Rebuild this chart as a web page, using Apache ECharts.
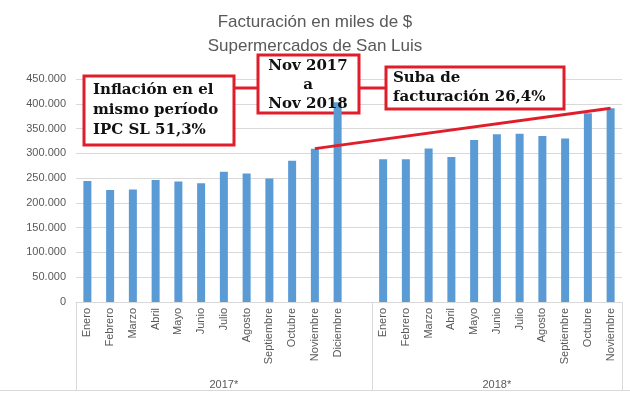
<!DOCTYPE html>
<html>
<head>
<meta charset="utf-8">
<script src="https://cdn.jsdelivr.net/npm/echarts@6/dist/echarts.min.js"></script>
<style>html,body{margin:0;padding:0;background:#fff}#c{width:630px;height:394px}</style>
</head>
<body>
<div id="c"></div>
<script>
// ---- data ----
const months2017 = ['Enero','Febrero','Marzo','Abril','Mayo','Junio','Julio','Agosto','Septiembre','Octubre','Noviembre','Diciembre',''];
const months2018 = ['Enero','Febrero','Marzo','Abril','Mayo','Junio','Julio','Agosto','Septiembre','Octubre','Noviembre'];
const values2017 = [244000,226000,227000,246000,243000,239500,263000,259500,249000,285000,309500,403000,null];
const values2018 = [288000,288000,310000,292500,327000,338500,339500,335000,330000,381000,391000];
const groupLabels = ['2017*','2018*'];
const yTicks = [0,50000,100000,150000,200000,250000,300000,350000,400000,450000];
const titleText = 'Facturación en miles de $\nSupermercados de San Luis';
const box1Text = 'Inflación en el\nmismo período\nIPC SL 51,3%';
const box2Text = 'Nov 2017\na\nNov 2018';
const box3Text = 'Suba de\nfacturación 26,4%';

// ---- build ----
const categories = months2017.concat(months2018);
const values = values2017.concat(values2018);
const n17 = months2017.length, n18 = months2018.length;
const halfCount = 2 * (n17 + n18) + 1;
const groupAxis = [];
for (let i = 0; i < halfCount; i++) groupAxis.push('');
groupAxis[n17] = groupLabels[0];
groupAxis[2 * n17 + n18] = groupLabels[1];
const boundaries = [0, 2 * n17, 2 * (n17 + n18)];
const idxA = 10, idxB = n17 + 10;

const fmt = v => String(v).replace(/\B(?=(\d{3})+(?!\d))/g, '.');
const RED = '#e01e2b';
const serif = 'bold 15px "DejaVu Serif"';

const chart = echarts.init(document.getElementById('c'), null, {renderer: 'canvas'});
chart.setOption({
  animation: false,
  backgroundColor: '#fff',
  title: {
    text: titleText, left: 'center', top: 5,
    textStyle: {fontFamily: 'Liberation Sans', fontSize: 17, fontWeight: 'normal', color: '#595959', lineHeight: 24}
  },
  grid: {left: 76, right: 8, top: 79, bottom: 92},
  xAxis: [{
    type: 'category', data: categories,
    axisLine: {lineStyle: {color: '#d9d9d9'}},
    axisTick: {show: false},
    axisLabel: {rotate: 90, interval: 0, fontFamily: 'Liberation Sans', fontSize: 11, color: '#595959', margin: 6}
  }, {
    type: 'category', data: groupAxis, boundaryGap: false, position: 'bottom',
    axisLine: {show: false},
    axisTick: {show: true, length: 88, interval: (i) => boundaries.indexOf(i) >= 0, lineStyle: {color: '#d9d9d9'}},
    axisLabel: {interval: 0, fontFamily: 'Liberation Sans', fontSize: 11, color: '#595959', margin: 77}
  }],
  yAxis: {
    type: 'value', min: yTicks[0], max: yTicks[yTicks.length - 1], interval: yTicks[1] - yTicks[0],
    axisLine: {show: false}, axisTick: {show: false},
    splitLine: {lineStyle: {color: '#d9d9d9'}},
    axisLabel: {formatter: fmt, fontFamily: 'Liberation Sans', fontSize: 11, color: '#595959', margin: 10}
  },
  series: [{
    type: 'bar', data: values, barWidth: 8, z: 2,
    itemStyle: {color: '#5b9bd5'},
    markLine: {
      silent: true, symbol: ['none', 'none'],
      lineStyle: {color: RED, width: 3, type: 'solid'},
      label: {show: false},
      data: [[{coord: [idxA, values[idxA]]}, {coord: [idxB, values[idxB]]}]]
    }
  }],
  graphic: [
    {type: 'line', shape: {x1: 0, y1: 390.5, x2: 630, y2: 390.5}, style: {stroke: '#d9d9d9', lineWidth: 1}, z: 0},
    {type: 'line', shape: {x1: 234, y1: 88, x2: 258, y2: 88}, style: {stroke: RED, lineWidth: 3}, z: 50},
    {type: 'line', shape: {x1: 359, y1: 88, x2: 386, y2: 88}, style: {stroke: RED, lineWidth: 3}, z: 50},
    {type: 'rect', shape: {x: 84, y: 76, width: 150, height: 69}, style: {fill: '#fff', stroke: RED, lineWidth: 3}, z: 50},
    {type: 'text', x: 93, y: 80, style: {text: box1Text, font: serif, fill: '#111', lineHeight: 20}, z: 60},
    {type: 'rect', shape: {x: 258, y: 55, width: 101, height: 58}, style: {fill: '#fff', stroke: RED, lineWidth: 3}, z: 1},
    {type: 'text', x: 308, y: 57, style: {text: box2Text, font: serif, fill: '#111', lineHeight: 19, textAlign: 'center'}, z: 60},
    {type: 'rect', shape: {x: 386, y: 67, width: 178, height: 42}, style: {fill: '#fff', stroke: RED, lineWidth: 3}, z: 50},
    {type: 'text', x: 393, y: 69, style: {text: box3Text, font: serif, fill: '#111', lineHeight: 19}, z: 60}
  ]
});
</script>
</body>
</html>
